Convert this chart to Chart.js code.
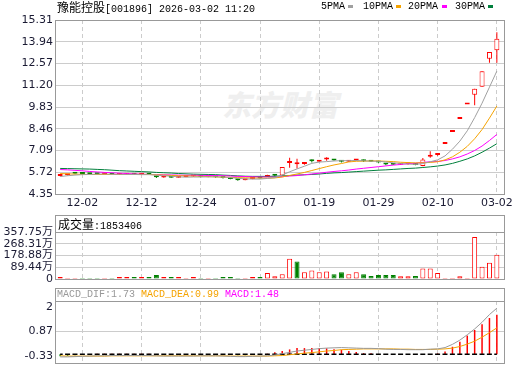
<!DOCTYPE html>
<html><head><meta charset="utf-8">
<script src="https://cdn.jsdelivr.net/npm/chart.js@4.4.1/dist/chart.umd.min.js"></script>
<style>
html,body{margin:0;padding:0;background:#fff;}
#wrap{position:relative;width:520px;height:365px;overflow:hidden;background:#fff;}
canvas{position:absolute;left:0;top:0;}
.t{position:absolute;white-space:nowrap;font-family:"Liberation Mono",monospace;font-size:10px;line-height:14px;color:#000;}
.cjk{font-family:"Noto Sans CJK SC";font-size:12px;}
.box{position:absolute;left:55px;width:450px;box-sizing:border-box;border:1px solid #999;}
.mk{position:absolute;width:5px;height:3px;top:5px;}
#wm{position:absolute;left:222px;top:86px;font-family:"Noto Sans CJK SC";font-weight:900;font-size:29px;line-height:34px;color:#efefef;font-style:italic;}
</style></head><body>
<div id="wrap">
<div id="wm">东方财富</div>
<canvas id="cMain" width="520" height="365"></canvas>
<canvas id="cVol" width="520" height="365"></canvas>
<canvas id="cMacd" width="520" height="365"></canvas>
<div class="t" style="left:57px;top:0px"><span class="cjk">豫能控股</span>[001896] 2026-03-02 11:20</div>
<div class="t" style="left:321px;top:0px">5PMA</div><div class="mk" style="left:348px;background:#a0a0a0"></div>
<div class="t" style="left:363px;top:0px">10PMA</div><div class="mk" style="left:396px;background:#f5a300"></div>
<div class="t" style="left:408px;top:0px">20PMA</div><div class="mk" style="left:442px;background:#ff00ff"></div>
<div class="t" style="left:455px;top:0px">30PMA</div><div class="mk" style="left:488px;background:#007f3c"></div>
<div class="box" style="top:215px;height:18px"></div>
<div class="t" style="left:58px;top:217px"><span class="cjk">成交量</span>:1853406</div>
<div class="box" style="top:288px;height:14px"></div>
<div class="t" style="left:57px;top:288px"><span style="color:#999">MACD_DIF:1.73</span> <span style="color:#f5a300">MACD_DEA:0.99</span> <span style="color:#ff00ff">MACD:1.48</span></div>
</div>
<script>
const dates = ['11-27','11-28','12-01','12-02','12-03','12-04','12-05','12-08','12-09','12-10',
'12-11','12-12','12-15','12-16','12-17','12-18','12-19','12-22','12-23','12-24',
'12-25','12-26','12-29','12-30','12-31','01-05','01-06','01-07','01-08','01-09',
'01-12','01-13','01-14','01-15','01-16','01-19','01-20','01-21','01-22','01-23',
'01-26','01-27','01-28','01-29','01-30','02-02','02-03','02-04','02-05','02-06',
'02-09','02-10','02-11','02-12','02-13','02-24','02-25','02-26','02-27','03-02'];
const tickIdx = [3, 11, 19, 27, 35, 43, 51, 59];

const open = [5.48,5.53,5.63,5.63,5.62,5.61,5.59,5.60,5.55,5.57,
5.58,5.56,5.58,5.50,5.39,5.41,5.37,5.42,5.45,5.46,
5.41,5.42,5.39,5.34,5.27,5.22,5.29,5.36,5.42,5.55,
5.52,6.30,6.22,6.24,6.45,6.38,6.52,6.48,6.42,6.38,
6.46,6.45,6.40,6.40,6.25,6.22,6.19,6.22,6.22,6.12,
6.70,6.80,7.50,8.25,9.08,9.98,10.60,11.10,12.87,13.41];
const close = [5.50,5.56,5.62,5.61,5.60,5.59,5.61,5.56,5.57,5.58,
5.56,5.58,5.56,5.40,5.41,5.38,5.40,5.45,5.47,5.42,
5.43,5.40,5.36,5.29,5.21,5.26,5.35,5.33,5.48,5.50,
6.05,6.38,6.26,6.29,6.41,6.45,6.56,6.46,6.38,6.42,
6.50,6.42,6.38,6.33,6.21,6.19,6.22,6.24,6.18,6.52,
6.75,6.82,7.50,8.25,9.08,9.98,10.98,12.08,13.29,14.13];
const high = [5.52,5.58,5.65,5.66,5.66,5.63,5.63,5.61,5.58,5.60,
5.59,5.61,5.59,5.52,5.43,5.42,5.41,5.50,5.49,5.47,
5.44,5.43,5.40,5.35,5.28,5.28,5.36,5.38,5.56,5.58,
6.05,6.63,6.57,6.34,6.52,6.48,6.66,6.50,6.45,6.44,
6.53,6.52,6.43,6.41,6.28,6.24,6.24,6.26,6.23,6.62,
7.05,6.90,7.50,8.25,9.08,9.98,10.98,12.08,13.29,14.54];
const low = [5.47,5.52,5.59,5.60,5.59,5.58,5.58,5.55,5.54,5.56,
5.55,5.55,5.55,5.36,5.38,5.37,5.36,5.42,5.44,5.41,
5.40,5.38,5.33,5.28,5.18,5.21,5.28,5.31,5.42,5.45,
5.50,6.00,5.96,6.20,6.34,6.36,6.45,6.44,6.33,6.37,
6.44,6.36,6.36,6.32,6.16,6.17,6.18,6.20,6.16,6.10,
6.63,6.76,7.50,8.25,9.08,9.98,9.94,11.10,12.61,12.61];

const ma5 = [5.45,5.50,5.54,5.57,5.58,5.60,5.61,5.59,5.59,5.58,
5.58,5.57,5.57,5.54,5.50,5.47,5.43,5.41,5.42,5.42,
5.43,5.43,5.42,5.38,5.34,5.30,5.29,5.29,5.33,5.38,
5.54,5.75,5.93,6.10,6.28,6.36,6.39,6.43,6.45,6.45,
6.46,6.44,6.42,6.41,6.37,6.31,6.27,6.24,6.21,6.27,
6.38,6.50,6.75,7.17,7.68,8.33,9.16,10.07,11.08,12.09];
const ma10 = [5.64,5.62,5.60,5.59,5.58,5.58,5.58,5.58,5.58,5.58,
5.59,5.59,5.58,5.56,5.54,5.52,5.50,5.49,5.48,5.46,
5.45,5.43,5.41,5.40,5.38,5.37,5.36,5.35,5.35,5.36,
5.42,5.52,5.61,5.71,5.83,5.95,6.07,6.18,6.27,6.37,
6.41,6.42,6.43,6.43,6.41,6.39,6.35,6.33,6.31,6.32,
6.34,6.38,6.50,6.69,6.98,7.35,7.83,8.41,9.13,9.89];
const ma20 = [5.89,5.87,5.84,5.81,5.77,5.74,5.71,5.69,5.66,5.64,
5.62,5.60,5.58,5.57,5.56,5.55,5.54,5.53,5.53,5.52,
5.52,5.51,5.50,5.48,5.46,5.45,5.43,5.42,5.42,5.41,
5.44,5.48,5.51,5.56,5.61,5.66,5.72,5.77,5.81,5.86,
5.92,5.97,6.02,6.07,6.12,6.17,6.21,6.26,6.29,6.34,
6.38,6.40,6.46,6.56,6.69,6.87,7.09,7.37,7.72,8.10];
const ma30 = [5.96,5.95,5.94,5.93,5.92,5.90,5.88,5.85,5.82,5.80,
5.78,5.76,5.74,5.71,5.69,5.67,5.64,5.62,5.60,5.59,
5.58,5.57,5.54,5.52,5.49,5.47,5.46,5.46,5.46,5.47,
5.49,5.51,5.54,5.56,5.58,5.61,5.65,5.68,5.70,5.73,
5.76,5.79,5.82,5.85,5.87,5.90,5.93,5.96,5.98,6.02,
6.06,6.11,6.18,6.28,6.41,6.56,6.75,6.98,7.24,7.52];

// volume in 万 (10k shares)
const vol = [15,7,7,7,7,7,7,7,15,15,
15,15,15,30,15,15,15,7,15,7,
7,7,15,15,7,7,15,15,45,20,
37,154,134,52,65,52,57,37,52,37,
52,37,22,30,30,30,20,20,22,79,
79,45,7,7,20,7,320,94,124,185.34];

const dif = [-0.10,-0.10,-0.09,-0.08,-0.07,-0.06,-0.06,-0.05,-0.05,-0.05,
-0.05,-0.05,-0.05,-0.06,-0.07,-0.07,-0.07,-0.07,-0.07,-0.06,
-0.06,-0.06,-0.07,-0.08,-0.09,-0.09,-0.08,-0.07,-0.06,-0.03,
0.02,0.07,0.12,0.15,0.18,0.21,0.23,0.24,0.25,0.24,
0.23,0.22,0.22,0.21,0.19,0.18,0.18,0.17,0.17,0.17,
0.19,0.20,0.25,0.37,0.53,0.73,0.95,1.20,1.49,1.73];
const dea = [-0.06,-0.07,-0.07,-0.07,-0.07,-0.07,-0.07,-0.06,-0.06,-0.06,
-0.06,-0.06,-0.06,-0.06,-0.06,-0.06,-0.06,-0.06,-0.06,-0.06,
-0.06,-0.06,-0.06,-0.07,-0.07,-0.07,-0.07,-0.07,-0.07,-0.06,
-0.05,-0.02,0.01,0.04,0.06,0.09,0.12,0.14,0.17,0.18,
0.19,0.20,0.20,0.20,0.20,0.20,0.19,0.19,0.18,0.18,
0.18,0.19,0.20,0.23,0.29,0.38,0.49,0.64,0.81,0.99];
const macd = [-0.08,-0.06,-0.04,-0.02,0.00,0.02,0.02,0.02,0.02,0.02,
0.02,0.02,0.02,0.00,-0.02,-0.02,-0.02,-0.02,-0.02,0.00,
0.00,0.00,-0.02,-0.02,-0.04,-0.04,-0.02,0.00,0.02,0.07,
0.12,0.18,0.23,0.23,0.23,0.23,0.22,0.19,0.17,0.12,
0.08,0.04,0.04,0.01,-0.02,-0.03,-0.03,-0.03,-0.03,-0.02,
0.01,0.03,0.10,0.28,0.47,0.70,0.91,1.13,1.36,1.48];

const priceTicks = [4.35, 5.72, 7.09, 8.46, 9.83, 11.20, 12.57, 13.94, 15.31];
const volTicks = [0, 89.44, 178.88, 268.31, 357.75];
const macdTicks = [-0.33, 0.87, 2];

const RED = '#ff0000', GREEN = '#008000', GRID = '#cccccc', FRAME = '#999999', LBL = '#1a1a33';
const FONT = {family: 'DejaVu Sans, Noto Sans CJK SC', size: 11};
const idx = dates.map((_, i) => i);
const pts = arr => arr.map((v, i) => ({x: i, y: v}));

const framePlugin = {
  id: 'frame',
  beforeDatasetsDraw(chart) {
    const {ctx, chartArea: a} = chart;
    ctx.save();
    ctx.strokeStyle = FRAME; ctx.lineWidth = 1;
    ctx.strokeRect(a.left + 0.5, a.top + 0.5, a.right - a.left - 1, a.bottom - a.top);
    ctx.restore();
  }
};

function xAxis(show) {
  return {
    type: 'linear', position: 'bottom', min: -0.7, max: 60.1, offset: false,
    afterBuildTicks: s => { s.ticks = tickIdx.map(v => ({value: v})); },
    afterFit: s => { s.height = show ? 20 : 0; s.paddingLeft = 0; s.paddingRight = 0; },
    ticks: {display: show, autoSkip: false, maxRotation: 0, padding: 3, color: LBL, font: FONT,
            callback: v => dates[v]},
    grid: {color: GRID, drawTicks: false, offset: false},
    border: {display: false, dash: [4, 3]}
  };
}
function yAxis(min, max, tickVals, cb) {
  return {
    type: 'linear', position: 'left', min, max,
    afterBuildTicks: s => { s.ticks = tickVals.map(v => ({value: v})); },
    afterFit: s => { s.width = 55; s.paddingTop = 0; s.paddingBottom = 0; },
    ticks: {padding: 2, color: LBL, font: FONT, autoSkip: false, callback: cb},
    grid: {color: GRID, drawTicks: false},
    border: {display: false}
  };
}
const baseOpts = (pad, xShow, y) => ({
  responsive: false, animation: false, devicePixelRatio: 1,
  layout: {padding: pad},
  plugins: {legend: {display: false}, tooltip: {enabled: false}},
  scales: {x: xAxis(xShow), y}
});
const maLine = (label, arr, color) => ({type: 'line', label, data: pts(arr), borderColor: color,
  borderWidth: 1, pointRadius: 0, tension: 0, fill: false});
const candleColor = i => close[i] >= open[i] ? RED : GREEN;

new Chart(document.getElementById('cMain'), {
  type: 'bar',
  data: {datasets: [
    maLine('MA5', ma5, '#a0a0a0'),
    maLine('MA10', ma10, '#f5a300'),
    maLine('MA20', ma20, '#ff00ff'),
    maLine('MA30', ma30, '#007f3c'),
    {type: 'bar', label: 'body', data: idx.map(i => ({x: i, y: [open[i], close[i]]})),
     barThickness: 5, grouped: false, minBarLength: 2, borderWidth: 1, borderSkipped: false, inflateAmount: 0,
     backgroundColor: c => { const i = c.dataIndex; return close[i] > open[i] ? '#ffffff' : candleColor(i); },
     borderColor: c => candleColor(c.dataIndex)},
    {type: 'bar', label: 'wick', data: idx.map(i => ({x: i, y: [low[i], high[i]]})),
     barThickness: 1, grouped: false, borderWidth: 0, inflateAmount: 0,
     backgroundColor: c => candleColor(c.dataIndex)}
  ]},
  options: baseOpts({left: 0, right: 15, top: 20, bottom: 151}, true,
    yAxis(4.35, 15.31, priceTicks, v => v.toFixed(2))),
  plugins: [framePlugin]
});

const volUp = i => i === 0 ? close[0] >= open[0] : close[i] >= close[i - 1];
new Chart(document.getElementById('cVol'), {
  type: 'bar',
  data: {datasets: [
    {label: '成交量', data: pts(vol), barThickness: 5, grouped: false, borderWidth: 1, borderSkipped: false, inflateAmount: 0,
     backgroundColor: c => volUp(c.dataIndex) ? '#ffffff' : GREEN,
     borderColor: c => volUp(c.dataIndex) ? RED : GREEN}
  ]},
  options: baseOpts({left: 0, right: 15, top: 232, bottom: 86}, false,
    yAxis(0, 357.75, volTicks, v => v === 0 ? '0' : v.toFixed(2) + '万')),
  plugins: [framePlugin]
});

new Chart(document.getElementById('cMacd'), {
  type: 'bar',
  data: {datasets: [
    {type: 'line', label: 'DIF', data: pts(dif), borderColor: '#999999', borderWidth: 1, pointRadius: 0},
    {type: 'line', label: 'DEA', data: pts(dea), borderColor: '#f5a300', borderWidth: 1, pointRadius: 0},
    {type: 'line', label: 'zero', data: idx.map(i => ({x: i, y: 0})), borderColor: '#000000', borderWidth: 1.6,
     pointRadius: 0, borderDash: [5, 2.4], borderDashOffset: 2.5},
    {type: 'bar', label: 'MACD', data: pts(macd), barThickness: 1.5, grouped: false, borderWidth: 0, inflateAmount: 0,
     backgroundColor: c => macd[c.dataIndex] >= 0 ? RED : GREEN}
  ]},
  options: baseOpts({left: 0, right: 15, top: 301, bottom: 2}, false,
    yAxis(-0.33, 2, macdTicks, v => v === 2 ? ['', '2'] : (v === -0.33 ? ['-0.33', ''] : String(v)))),
  plugins: [framePlugin]
});
</script>
</body></html>
